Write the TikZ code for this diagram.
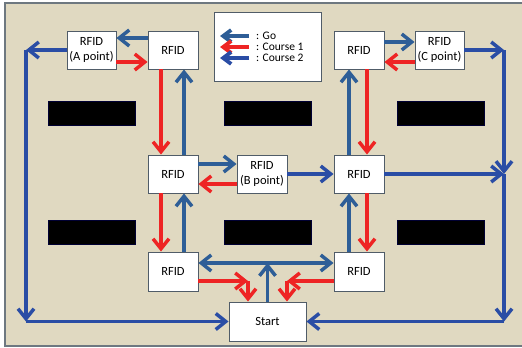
\documentclass[tikz,border=0pt]{standalone}
\usepackage{fontspec}
\setmainfont{Carlito}
\usetikzlibrary{arrows.meta}
\definecolor{paper}{RGB}{224,217,193}
\definecolor{frame}{RGB}{110,120,128}
\definecolor{gocol}{RGB}{46,94,151}
\definecolor{redcol}{RGB}{238,36,36}
\definecolor{c2col}{RGB}{42,77,165}
\definecolor{boxline}{RGB}{80,92,104}
\tikzset{
  tag/.style={draw=boxline, line width=0.9pt, fill=white, align=center,
    minimum width=50pt, minimum height=38pt, inner sep=0pt,
    font=\fontsize{12.5}{15}\selectfont},
  barrier/.style={fill=black, draw=black!80!blue, line width=0.6pt},
  chev/.style={-{Straight Barb[length=10pt,width=16pt]}},
  go/.style={chev, draw=gocol, line width=3.5pt},
  courseone/.style={chev, draw=redcol, line width=3.5pt},
  coursetwo/.style={chev, draw=c2col, line width=3.5pt},
  legtip/.style={line width=3.8pt, -{Straight Barb[length=8pt,width=12pt]}},
  legtext/.style={anchor=west, inner sep=0pt, font=\fontsize{11.5}{13}\selectfont}
}
\begin{document}
\begin{tikzpicture}[x=1pt,y=-1pt]
  \useasboundingbox (0,0) rectangle (522,348);
  \fill[white] (0,0) rectangle (522,348);
  \draw[frame, fill=paper, line width=1.2pt] (5,3) rectangle (524,346);

  % obstacles
  \foreach \x in {48,224,397} {
    \draw[barrier] (\x,101) rectangle ++(87,24);
    \draw[barrier] (\x,220) rectangle ++(87,24);
  }

  % legend
  \draw[boxline, fill=white, line width=0.9pt] (214,12) rectangle (321,81);
  \coordinate (l1) at (249,36);
  \coordinate (l2) at (249,47);
  \coordinate (l3) at (249,58);
  \draw[go, legtip] (l1) -- ++(-29,0);
  \draw[courseone, legtip] (l2) -- ++(-29,0);
  \draw[coursetwo, legtip] (l3) -- ++(-29,0);
  \node[legtext] (t1) at (256,36) {: Go};
  \node[legtext] (t2) at (256,47) {: Course 1};
  \node[legtext] (t3) at (256,58) {: Course 2};

  % RFID tags
  \node[tag, minimum width=49pt] (A) at (91.5,50) {RFID\\(A point)};
  \node[tag] (TL) at (173,50) {RFID};
  \node[tag] (TR) at (359,50) {RFID};
  \node[tag, minimum width=49pt] (C) at (439.5,50) {RFID\\(C point)};
  \node[tag] (ML) at (173,174) {RFID};
  \node[tag] (B) at (262,174) {RFID\\(B point)};
  \node[tag] (MR) at (359,174) {RFID};
  \node[tag, minimum height=39pt] (BL) at (173,271.5) {RFID};
  \node[tag, minimum height=39pt] (BR) at (359,271.5) {RFID};
  \node[tag, minimum width=77pt, minimum height=39pt] (S) at (267.5,321.5) {Start};

  % corner points of the outer loops
  \coordinate (cA) at (26,50);
  \coordinate (cAb) at (26,321.5);
  \coordinate (cC) at (504,50);
  \coordinate (cM) at (504,174);
  \coordinate (cB) at (504,321.5);
  \coordinate (J) at (267.5,263);
  \coordinate (k1) at (248,281);
  \coordinate (k2) at (287,281);

  % top row
  \draw[go] ([yshift=12pt]TL.west) -- ([yshift=12pt]A.east);
  \draw[courseone] ([yshift=-12pt]A.east) -- ([yshift=-12pt]TL.west);
  \draw[go] ([yshift=8pt]TR.east) -- ([yshift=8pt]C.west);
  \draw[courseone] ([yshift=-12pt]C.west) -- ([yshift=-12pt]TR.east);

  % left column
  \draw[courseone] ([xshift=-12pt]TL.south) -- ([xshift=-12pt]ML.north);
  \draw[go] ([xshift=11pt]ML.north) -- ([xshift=11pt]TL.south);
  \draw[courseone] ([xshift=-12pt]ML.south) -- ([xshift=-12pt]BL.north);
  \draw[go] ([xshift=11pt]BL.north) -- ([xshift=11pt]ML.south);

  % right column
  \draw[go] ([xshift=-10pt]MR.north) -- ([xshift=-10pt]TR.south);
  \draw[courseone] ([xshift=8pt]TR.south) -- ([xshift=8pt]MR.north);
  \draw[go] ([xshift=-10pt]BR.north) -- ([xshift=-10pt]MR.south);
  \draw[courseone] ([xshift=8pt]MR.south) -- ([xshift=8pt]BR.north);

  % middle row
  \draw[go] ([yshift=10pt]ML.east) -- ([yshift=10pt]B.west);
  \draw[courseone] ([yshift=-10pt]B.west) -- ([yshift=-10pt]ML.east);
  \draw[coursetwo] (B.east) -- (MR.west);

  % around the start
  \draw[go] (S.north) -- (J);
  \draw[go] (J) -- (BL.east |- J);
  \draw[go] (J) -- (BR.west |- J);
  \draw[courseone] (BL.east |- k1) -- (k1);
  \draw[courseone] (k1) -- (k1 |- S.north);
  \draw[courseone] (BR.west |- k2) -- (k2);
  \draw[courseone] (k2) -- (k2 |- S.north);

  % outer loops
  \draw[coursetwo] (A.west) -- (cA);
  \draw[coursetwo] (cA) -- (cAb);
  \draw[coursetwo] (cAb) -- (S.west);
  \draw[coursetwo] (C.east) -- (cC);
  \draw[coursetwo] (cC) -- (cM);
  \draw[coursetwo] (MR.east) -- (cM);
  \draw[coursetwo] (cM) -- (cB);
  \draw[coursetwo] (cB) -- (S.east);
\end{tikzpicture}
\end{document}
